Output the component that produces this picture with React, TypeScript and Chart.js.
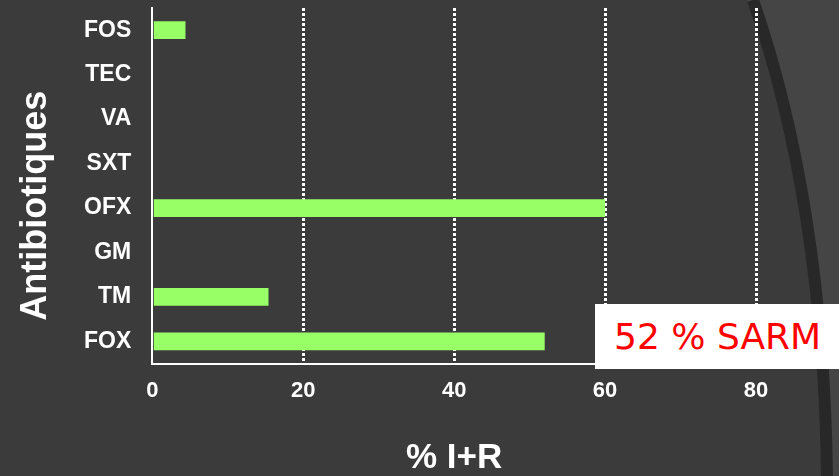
import { useEffect, useRef } from "react";
import { Chart, registerables } from "chart.js";

Chart.register(...registerables);

// Antibiotics tested (top to bottom) and share of intermediate + resistant strains
const antibiotics = ["FOS", "TEC", "VA", "SXT", "OFX", "GM", "TM", "FOX"];
const resistancePct = [4.4, 0, 0, 0, 60, 0, 15.4, 52];
const xTickValues = [0, 20, 40, 60, 80];
const xMax = 80;
const xTitle = "% I+R";
const yTitle = "Antibiotiques";
const mrsaNote = "52 % SARM";

const BG = "#3b3b3b";
const BAR = "#99ff66";
const FONT = "'Liberation Sans', Arial, sans-serif";

// Curved slide edge on the right side, painted under the axes
const slideEdge = {
  id: "slideEdge",
  beforeDraw(chart: Chart) {
    const { ctx, width, height } = chart;
    ctx.save();
    ctx.fillStyle = BG;
    ctx.fillRect(0, 0, width, height);
    ctx.beginPath();
    ctx.moveTo(747, 0);
    ctx.bezierCurveTo(785, 110, 818, 260, 821, height);
    ctx.lineTo(width, height);
    ctx.lineTo(width, 0);
    ctx.closePath();
    ctx.fillStyle = "#454545";
    ctx.fill();
    ctx.beginPath();
    ctx.moveTo(753, 0);
    ctx.bezierCurveTo(791, 110, 824, 260, 827, height);
    ctx.lineWidth = 12;
    ctx.strokeStyle = "#282828";
    ctx.stroke();
    ctx.restore();
  },
};

// Vertical category-axis title, set a little below the plot's middle
const yAxisTitle = {
  id: "yAxisTitle",
  afterDraw(chart: Chart) {
    const { ctx, chartArea } = chart;
    const cy = (chartArea.top + chartArea.bottom) / 2 + 20;
    ctx.save();
    ctx.translate(36, cy);
    ctx.rotate(-Math.PI / 2);
    ctx.font = `bold 36px ${FONT}`;
    ctx.fillStyle = "#ffffff";
    ctx.textAlign = "center";
    ctx.textBaseline = "middle";
    ctx.fillText(yTitle, 0, 0);
    ctx.restore();
  },
};

// Labels stay inside the plot bounds, so no extra overhang padding is needed
const noOverhang = (scale: any) => {
  scale.paddingTop = 0;
  scale.paddingBottom = 0;
  scale.paddingLeft = 0;
  scale.paddingRight = 0;
};

export default function App() {
  const canvasRef = useRef<HTMLCanvasElement | null>(null);

  useEffect(() => {
    const canvas = canvasRef.current;
    if (!canvas) return;
    const chart = new Chart(canvas, {
      type: "bar",
      data: {
        labels: antibiotics,
        datasets: [
          {
            data: resistancePct,
            backgroundColor: BAR,
            borderWidth: 0,
            barPercentage: 0.4,
            categoryPercentage: 1,
          },
        ],
      },
      options: {
        indexAxis: "y",
        animation: false,
        responsive: true,
        maintainAspectRatio: false,
        layout: { padding: { top: 8, left: 63, right: 83, bottom: 0 } },
        plugins: {
          legend: { display: false },
          tooltip: { enabled: false },
        },
        scales: {
          x: {
            min: 0,
            max: xMax,
            afterFit: noOverhang,
            ticks: {
              stepSize: 20,
              color: "#ffffff",
              padding: 14,
              maxRotation: 0,
              font: { family: FONT, size: 22, weight: "bold" },
            },
            grid: {
              drawTicks: false,
              lineWidth: 3,
              color: (c: any) => {
                const v = c.tick ? c.tick.value : 0;
                return v > 0 && xTickValues.includes(v) ? "#ffffff" : "rgba(0,0,0,0)";
              },
            },
            border: { display: true, color: "#ffffff", width: 2, dash: [3, 2] },
            title: {
              display: true,
              text: xTitle,
              color: "#ffffff",
              font: { family: FONT, size: 35, weight: "bold", lineHeight: 1 },
              padding: { top: 23, bottom: 0 },
            },
          },
          y: {
            afterFit: noOverhang,
            ticks: {
              color: "#ffffff",
              padding: 21,
              font: { family: FONT, size: 23, weight: "bold" },
            },
            grid: { display: false, drawTicks: false },
            border: { display: true, color: "#ffffff", width: 2 },
            title: { display: false },
          },
        },
      },
      plugins: [slideEdge, yAxisTitle],
    });
    return () => chart.destroy();
  }, []);

  return (
    <div
      style={{
        position: "fixed",
        left: 0,
        top: 0,
        width: 839,
        height: 476,
        overflow: "hidden",
        background: BG,
      }}
    >
      <canvas ref={canvasRef} />
      <div
        style={{
          position: "absolute",
          left: 595,
          top: 304,
          width: 244,
          height: 65,
          background: "#ffffff",
          color: "#ff0000",
          display: "flex",
          alignItems: "center",
          paddingLeft: 19,
          boxSizing: "border-box",
          fontFamily: "'Comic Sans MS', 'DejaVu Sans', sans-serif",
          fontSize: 36,
          whiteSpace: "nowrap",
        }}
      >
        {mrsaNote}
      </div>
    </div>
  );
}
